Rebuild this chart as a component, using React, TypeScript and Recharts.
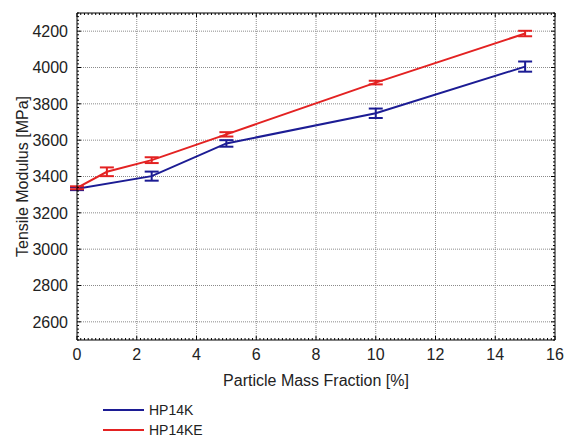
import React from 'react';
import { LineChart, Line, XAxis, YAxis, ErrorBar, ReferenceLine, Legend } from 'recharts';

// ---- data ----
const hp14kX = [0, 2.5, 5, 10, 15];
const hp14kY = [3333, 3402, 3582, 3748, 4005];
const hp14kErr = [8, 25, 18, 26, 28];

const hp14keX = [0, 1, 2.5, 5, 10, 15];
const hp14keY = [3338, 3426, 3490, 3632, 3917, 4187];
const hp14keErr = [8, 24, 16, 12, 10, 15];

const xTicks = [0, 2, 4, 6, 8, 10, 12, 14, 16];
const yTicks = [2600, 2800, 3000, 3200, 3400, 3600, 3800, 4000, 4200];

const seriesNames = ['HP14K', 'HP14KE'];
const xLabel = 'Particle Mass Fraction [%]';
const yLabel = 'Tensile Modulus [MPa]';

// ---- derived ----
const hp14kData = hp14kX.map((x, i) => ({ x, y: hp14kY[i], err: hp14kErr[i] }));
const hp14keData = hp14keX.map((x, i) => ({ x, y: hp14keY[i], err: hp14keErr[i] }));

const xMinor = Array.from({ length: 129 }, (_, i) => i * 0.125);
const yMinor = Array.from({ length: 91 }, (_, i) => 2500 + i * 20);

const BLUE = '#1c1c94';
const RED = '#e32222';
const seriesColors = [BLUE, RED];
const FONT = '"Liberation Sans", Arial, sans-serif';
const TXT = '#222';
const TM = 9;
const MAJ = 4;
const MIN = 2;

const isMajor = (v: number, arr: number[]) => arr.some(t => Math.abs(t - v) < 1e-6);

const BottomTick = (p: any) => {
  const v = p.payload.value;
  const m = isMajor(v, xTicks);
  const ay = p.y - TM;
  return (
    <g>
      <line x1={p.x} x2={p.x} y1={ay} y2={ay - (m ? MAJ : MIN)} stroke="#000" strokeWidth={1} />
      {m && (
        <text x={p.x} y={p.y} dy="0.71em" textAnchor="middle" fontSize={16} fontFamily={FONT} fill={TXT}>
          {v}
        </text>
      )}
    </g>
  );
};

const LeftTick = (p: any) => {
  const v = p.payload.value;
  const m = isMajor(v, yTicks);
  const ax = p.x + TM;
  return (
    <g>
      <line x1={ax} x2={ax + (m ? MAJ : MIN)} y1={p.y} y2={p.y} stroke="#000" strokeWidth={1} />
      {m && (
        <text x={p.x} y={p.y} dy="0.36em" textAnchor="end" fontSize={16} fontFamily={FONT} fill={TXT}>
          {v}
        </text>
      )}
    </g>
  );
};

const TopTick = (p: any) => {
  const v = p.payload.value;
  const m = isMajor(v, xTicks);
  return <line x1={p.x} x2={p.x} y1={p.y} y2={p.y + (m ? MAJ : MIN)} stroke="#000" strokeWidth={1} />;
};

const RightTick = (p: any) => {
  const v = p.payload.value;
  const m = isMajor(v, yTicks);
  return <line x1={p.x} x2={p.x - (m ? MAJ : MIN)} y1={p.y} y2={p.y} stroke="#000" strokeWidth={1} />;
};

const LegendContent = (props: any) => {
  const items = props.payload || [];
  return (
    <div style={{ fontFamily: FONT, fontSize: 14, color: TXT, width: 200 }}>
      {items.map((it: any, i: number) => (
        <div key={it.value} style={{ display: 'flex', alignItems: 'center', height: 20, whiteSpace: 'nowrap' }}>
          <div
            style={{
              flex: '0 0 41px',
              width: 41,
              height: 0,
              borderTop: `2px solid ${seriesColors[seriesNames.indexOf(it.value)] || it.color}`,
            }}
          />
          <span style={{ marginLeft: 5 }}>{it.value}</span>
        </div>
      ))}
    </div>
  );
};

export default function App() {
  return (
    <div style={{ position: 'absolute', left: 0, top: 0, background: '#fff' }}>
      <LineChart width={569} height={440} margin={{ top: 12, right: 13, bottom: 40, left: 17 }}>
        <XAxis
          xAxisId={0}
          dataKey="x"
          type="number"
          domain={[0, 16]}
          ticks={xMinor}
          interval={0}
          height={60}
          tickSize={0}
          tickMargin={TM}
          tickLine={false}
          tick={<BottomTick />}
          axisLine={{ stroke: '#000', strokeWidth: 1 }}
          allowDataOverflow
          label={{ value: xLabel, position: 'insideBottom', offset: 14, fontSize: 16, fontFamily: FONT, fill: TXT }}
        />
        <XAxis
          xAxisId="top"
          orientation="top"
          dataKey="x"
          type="number"
          domain={[0, 16]}
          ticks={xMinor}
          interval={0}
          height={1}
          tickSize={0}
          tickMargin={0}
          tickLine={false}
          tick={<TopTick />}
          axisLine={{ stroke: '#000', strokeWidth: 1 }}
          allowDataOverflow
        />
        <YAxis
          yAxisId={0}
          type="number"
          domain={[2500, 4300]}
          ticks={yMinor}
          interval={0}
          width={60}
          tickSize={0}
          tickMargin={TM}
          tickLine={false}
          tick={<LeftTick />}
          axisLine={{ stroke: '#000', strokeWidth: 1 }}
          allowDataOverflow
          label={{
            value: yLabel,
            angle: -90,
            position: 'insideLeft',
            offset: 5,
            fontSize: 16,
            fontFamily: FONT,
            fill: TXT,
            style: { textAnchor: 'middle' },
          }}
        />
        <YAxis
          yAxisId="right"
          orientation="right"
          type="number"
          domain={[2500, 4300]}
          ticks={yMinor}
          interval={0}
          width={1}
          tickSize={0}
          tickMargin={0}
          tickLine={false}
          tick={<RightTick />}
          axisLine={{ stroke: '#000', strokeWidth: 1 }}
          allowDataOverflow
        />
        {xTicks.slice(1, -1).map(v => (
          <ReferenceLine key={'gx' + v} x={v} xAxisId={0} yAxisId={0} stroke="#8a8a8a" strokeDasharray="1 1" strokeWidth={1} />
        ))}
        {yTicks.map(v => (
          <ReferenceLine key={'gy' + v} y={v} xAxisId={0} yAxisId={0} stroke="#8a8a8a" strokeDasharray="1 1" strokeWidth={1} />
        ))}
        <Line
          data={hp14kData}
          dataKey="y"
          name={seriesNames[0]}
          xAxisId={0}
          yAxisId={0}
          stroke={BLUE}
          strokeWidth={2}
          dot={false}
          isAnimationActive={false}
        >
          <ErrorBar dataKey="err" direction="y" width={7} stroke={BLUE} strokeWidth={2} isAnimationActive={false} />
        </Line>
        <Line
          data={hp14keData}
          dataKey="y"
          name={seriesNames[1]}
          xAxisId={0}
          yAxisId={0}
          stroke={RED}
          strokeWidth={2}
          dot={false}
          isAnimationActive={false}
        >
          <ErrorBar dataKey="err" direction="y" width={7} stroke={RED} strokeWidth={2} isAnimationActive={false} />
        </Line>
        <Legend
          content={<LegendContent />}
          wrapperStyle={{ left: 103, top: 400, width: 0, height: 0, overflow: 'visible' }}
        />
      </LineChart>
    </div>
  );
}
